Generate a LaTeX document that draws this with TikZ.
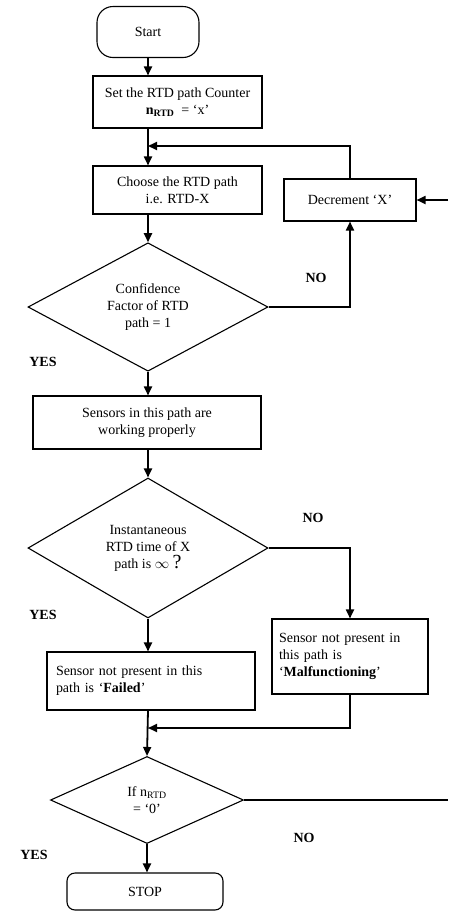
\documentclass[tikz,border=0pt]{standalone}
\usepackage{fontspec}
\setmainfont{Liberation Serif}
\usetikzlibrary{arrows.meta,positioning,shapes.geometric}
\tikzset{
  veg/.style={draw,line width=1.1pt,inner sep=0pt,align=center},
  doboz/.style={draw,line width=1.1pt,inner sep=0pt,align=center},
  bal/.style={doboz,align=left},
  dontes/.style={draw,diamond,line width=1.1pt,inner sep=0pt,align=center},
  mutat/.style={-{Triangle[length=9pt,width=8pt]},line width=1.8pt},
  vonal/.style={line width=1.8pt},
  valasz/.style={font=\fontsize{14}{17}\selectfont\bfseries},
}

\begin{document}
\begin{tikzpicture}[x=1pt,y=-1pt,font=\fontsize{14}{17}\selectfont]
  \useasboundingbox (0,0) rectangle (448,911);
  \node[veg,rounded corners=16pt,minimum width=102pt,minimum height=51pt] (start) at (148,32) {Start};
  \node[doboz,minimum width=169pt,minimum height=52pt] (szamlalo) at (177.5,102)
    {Set the RTD path Counter\\ {\bfseries n\textsubscript{RTD}}\ \ = ‘x’};
  \node[doboz,minimum width=169pt,minimum height=48pt] (valaszt) at (177.5,190)
    {Choose the RTD path\\ i.e. RTD-X};
  \node[doboz,minimum width=132pt,minimum height=42pt] (csokkent) at (350,200) {Decrement ‘X’};
  \node[dontes,minimum width=240pt,minimum height=124pt] (d1) at (148,307)
    {Confidence\\ Factor of RTD\\ path = 1};
  \node[doboz,minimum width=228pt,minimum height=53pt] (jo) at (147,422.5)
    {Sensors in this path are\\ working properly};
  \node[dontes,minimum width=240pt,minimum height=140pt] (d2) at (148,548)
    {Instantaneous\\ RTD time of X\\ path is $\infty$ {\fontsize{20}{20}\selectfont ?}};
  \node[bal,minimum width=208pt,minimum height=58pt,text width=190pt] (hibas) at (151,681)
    {Sensor not present in this\\ path is ‘\textbf{Failed}’};
  \node[bal,minimum width=156pt,minimum height=75pt,text width=142pt] (rossz) at (350,656.5)
    {Sensor not present in\\ this path is\\ ‘\textbf{Malfunctioning}’};
  \node[dontes,minimum width=193pt,minimum height=87pt] (d3) at (147,800)
    {If n\textsubscript{RTD}\\ = ‘0’};
  \node[veg,rounded corners=8pt,minimum width=156pt,minimum height=37pt] (stop) at (145,891.5) {STOP};
  \node[valasz] (no1) at (316,278) {NO};
  \node[valasz] (yes1) at (43,362) {YES};
  \node[valasz] (no2) at (313,518) {NO};
  \node[valasz] (yes2) at (43,615) {YES};
  \node[valasz] (no3) at (304,838) {NO};
  \node[valasz] (yes3) at (34,855) {YES};
  \coordinate (m1) at (148,146);
  \coordinate (m2) at (148,728);
  \coordinate (szel1) at (448,200);
  \coordinate (szel2) at (448,800);
  \draw[mutat] (start.south) -- (start.south |- szamlalo.north);
  \draw[mutat] (m1 |- szamlalo.south) -- (m1 |- valaszt.north);
  \draw[mutat] (csokkent.north) |- (m1);
  \draw[mutat] (m1 |- valaszt.south) -- (d1.north);
  \draw[mutat] (d1.east) -| (csokkent.south);
  \draw[mutat] (szel1) -- (csokkent.east);
  \draw[mutat] (d1.south) -- (d1.south |- jo.north);
  \draw[mutat] (d1.south |- jo.south) -- (d2.north);
  \draw[mutat] (d2.east) -| (rossz.north);
  \draw[mutat] (d2.south) -- (d2.south |- hibas.north);
  \draw[mutat] (rossz.south) |- (m2);
  \draw[mutat] (d2.south |- hibas.south) -- (d3.north);
  \draw[vonal] (d3.east) -- (szel2);
  \draw[mutat] (d3.south) -- (d3.south |- stop.north);
\end{tikzpicture}
\end{document}
